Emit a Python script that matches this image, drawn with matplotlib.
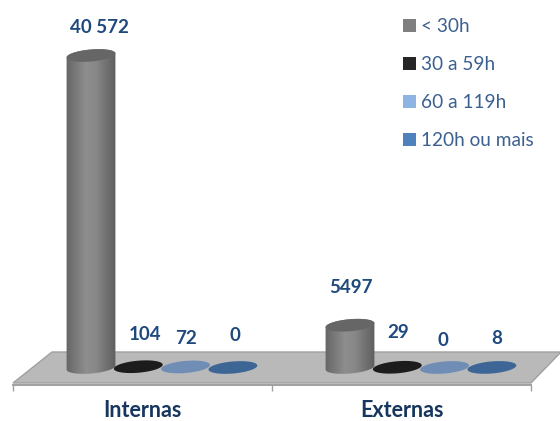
import numpy as np
import matplotlib
matplotlib.use("Agg")
import matplotlib.pyplot as plt
from matplotlib.colors import LinearSegmentedColormap
from matplotlib.patches import Patch, Polygon
from matplotlib.path import Path

groups = ["Internas", "Externas"]
series = ["< 30h", "30 a 59h", "60 a 119h", "120h ou mais"]
internas = [40572, 104, 72, 0]
externas = [5497, 29, 0, 8]
value_labels = [["40 572", "104", "72", "0"], ["5497", "29", "0", "8"]]

legend_colors = ["#7f7f7f", "#262626", "#8eb4e3", "#4f81bd"]
disc_colors = ["#666666", "#1c1c1c", "#6f8db5", "#3d6696"]
label_color = "#1f497d"

W, H = 560, 421
px_per_unit = 312 / 40572      # cylinder height in pixels per value
base_y = 367.5                 # pixel row of value 0
plt.rcParams["font.family"] = ["Lato", "DejaVu Sans"]

fig = plt.figure(figsize=(W / 100, H / 100), dpi=100)
ax = fig.add_axes([13 / W, (H - 385) / H, 518 / W, 385 / H])
ax.set_facecolor("none")


def to_x(px):
    return (px - 13) / 259 - 0.5


def to_y(py):
    return (base_y - py) / px_per_unit


def ellipse(x, angles):
    # tilted ellipse around a bar foot, sizes in pixels
    tilt = np.radians(-5)
    ex = 24.5 * np.cos(angles)
    ey = -6.0 * np.sin(angles)
    return (x + (ex * np.cos(tilt) - ey * np.sin(tilt)) / 259,
            -(ex * np.sin(tilt) + ey * np.cos(tilt)) / px_per_unit)


# floor
floor_px = [(13, 383), (52, 352), (561, 352), (531, 383)]
ax.add_patch(Polygon([(to_x(p), to_y(q)) for p, q in floor_px], closed=True,
                     facecolor="#b9b9b9", edgecolor="#a0a0a0", lw=1, clip_on=False, zorder=1))

gray_map = LinearSegmentedColormap.from_list(
    "cyl", ["#666666", "#7a7a7a", "#8e8e8e", "#888888", "#737373", "#5f5f5f"])
step = 47.3 / 259
first = to_x(91)
full_turn = np.linspace(0, 2 * np.pi, 120)
half_turn = np.linspace(0, np.pi, 60)

for g, values in enumerate([internas, externas]):
    for s, v in enumerate(values):
        x = g + first + s * step
        ex, ey = ellipse(x, full_turn)
        if s == 0:
            bx, by = ellipse(x, -half_turn)
            tx, ty = ellipse(x, half_turn[::-1])
            verts = np.column_stack([np.r_[bx, tx], np.r_[by, ty + v]])
            im = ax.imshow(np.linspace(0, 1, 64).reshape(1, -1), cmap=gray_map, aspect="auto",
                           extent=(x - 25 / 259, x + 25 / 259, -3000, v + 3000), zorder=3)
            im.set_clip_path(Path(verts), ax.transData)
            ax.fill(ex, ey + v, color=disc_colors[s], lw=0, zorder=4)
        else:
            ax.fill(ex, ey + v, color=disc_colors[s], lw=0, zorder=3)

# value labels, offsets in pixels from the top of each mark
offsets = [[(8, 28), (7, 32), (0, 28), (2, 32)], [(1, 38), (1, 35), (-2, 27), (5, 29)]]
for g, values in enumerate([internas, externas]):
    for s, v in enumerate(values):
        x = g + first + s * step
        dx, dy = offsets[g][s]
        ax.annotate(value_labels[g][s], (x, v), xytext=(dx * 0.72, dy * 0.72), textcoords="offset points",
                    ha="center", va="center", color=label_color, fontsize=13.5,
                    fontweight="bold", annotation_clip=False, zorder=6)

ax.set_xlim(-0.5, 1.5)
ax.set_ylim(to_y(385), to_y(0))

for side in ["top", "left", "right"]:
    ax.spines[side].set_visible(False)
ax.spines["bottom"].set_color("#a0a0a0")
ax.spines["bottom"].set_linewidth(1.4)
ax.set_yticks([])
ax.set_xticks([-0.5, 0.5, 1.5])
ax.set_xticklabels([])
ax.tick_params(axis="x", which="major", length=4, width=1, color="#a0a0a0")
ax.set_xticks([0, 1], minor=True)
ax.set_xticklabels(groups, minor=True, fontsize=15.5, fontweight="bold", color="#17365d")
ax.tick_params(axis="x", which="minor", length=0, pad=11)

handles = [Patch(facecolor=c, edgecolor="none") for c in legend_colors]
fig.legend(handles, series, loc="upper left", bbox_to_anchor=(388 / W, 1 - 3 / H), frameon=False,
           fontsize=13.7, labelcolor="#3b5f8f", handlelength=0.65, handleheight=0.65,
           handletextpad=0.26, labelspacing=1.1, borderpad=0.3)

fig.savefig("out.png", dpi=100)
